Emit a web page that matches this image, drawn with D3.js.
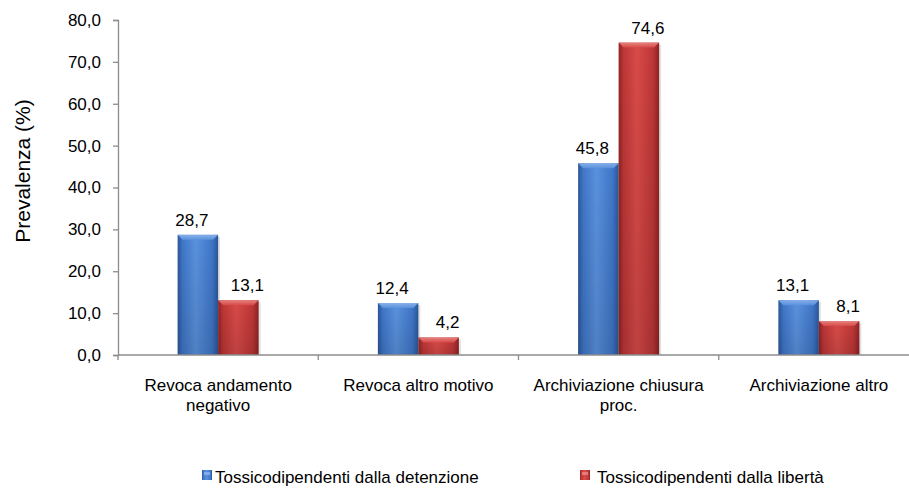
<!DOCTYPE html>
<html>
<head>
<meta charset="utf-8">
<script src="https://cdn.jsdelivr.net/npm/d3@7"></script>
<style>
  html, body { margin: 0; padding: 0; background: #fff; }
  svg { display: block; }
  text { font-family: "Liberation Sans", Arial, sans-serif; fill: #000; }
</style>
</head>
<body>
<svg id="chart" width="909" height="488"></svg>
<script>
const categories = [
  ["Revoca andamento", "negativo"],
  ["Revoca altro motivo"],
  ["Archiviazione chiusura", "proc."],
  ["Archiviazione altro"]
];
const seriesNames = ["Tossicodipendenti dalla detenzione", "Tossicodipendenti dalla libertà"];
const detenzione = [28.7, 12.4, 45.8, 13.1];
const liberta = [13.1, 4.2, 74.6, 8.1];
const yTicks = [0, 10, 20, 30, 40, 50, 60, 70, 80];
const yTitle = "Prevalenza (%)";

const svg = d3.select("#chart");
const fmt = v => d3.format(".1f")(v).replace(".", ",");

const catKeys = categories.map(c => c.join(" "));
const x = d3.scaleBand().domain(catKeys).range([118, 919]).paddingInner(0).paddingOuter(0);
const bw = x.bandwidth();
const xs = d3.scaleBand().domain([0, 1]).range([bw / 2 - 40.5, bw / 2 + 40.5]);
const y = d3.scaleLinear().domain([0, 80]).range([355, 20]);

const palettes = [
  { dark: "#2a5698", mid: "#3f76c8", light: "#5a92de", top: "#8db5ea" },
  { dark: "#8e2224", mid: "#bd3636", light: "#d84b49", top: "#e88a86" }
];

const defs = svg.append("defs");
palettes.forEach((p, i) => {
  const g = defs.append("linearGradient").attr("id", "grad" + i)
    .attr("x1", "0").attr("x2", "1").attr("y1", "0").attr("y2", "0");
  g.append("stop").attr("offset", "0").attr("stop-color", p.dark);
  g.append("stop").attr("offset", "0.12").attr("stop-color", p.mid);
  g.append("stop").attr("offset", "0.45").attr("stop-color", p.light);
  g.append("stop").attr("offset", "0.85").attr("stop-color", p.mid);
  g.append("stop").attr("offset", "1").attr("stop-color", p.dark);
  const v = defs.append("linearGradient").attr("id", "vgrad" + i)
    .attr("x1", "0").attr("x2", "0").attr("y1", "0").attr("y2", "1");
  v.append("stop").attr("offset", "0").attr("stop-color", "#000").attr("stop-opacity", 0);
  v.append("stop").attr("offset", "1").attr("stop-color", "#000").attr("stop-opacity", 0.12);
  const t = defs.append("linearGradient").attr("id", "tgrad" + i)
    .attr("x1", "0").attr("x2", "0").attr("y1", "0").attr("y2", "1");
  t.append("stop").attr("offset", "0").attr("stop-color", p.top);
  t.append("stop").attr("offset", "1").attr("stop-color", p.light);
});

// Y axis
const yAxis = d3.axisLeft(y).tickValues(yTicks).tickSize(5).tickPadding(12).tickFormat(fmt);
const gy = svg.append("g").attr("transform", "translate(118,0)").call(yAxis);
gy.select(".domain").attr("stroke", "#8c8c8c").attr("stroke-width", 1.3);
gy.selectAll(".tick line").attr("stroke", "#8c8c8c").attr("stroke-width", 1.3);
gy.selectAll(".tick text").style("font-size", "17px").attr("fill", "#000")
  .style("font-family", "'Liberation Sans', Arial, sans-serif");

// Y title
svg.append("text")
  .attr("transform", "translate(30,171) rotate(-90)")
  .attr("text-anchor", "middle")
  .style("font-size", "21px")
  .text(yTitle);

// Bars
const series = [detenzione, liberta];
series.forEach((vals, si) => {
  const g = svg.append("g");
  vals.forEach((v, ci) => {
    const x0 = x(catKeys[ci]) + xs(si);
    const w = xs.bandwidth();
    const y0 = y(v), h = y(0) - y(v);
    g.append("rect").attr("x", x0 + 2).attr("y", y0 + 2).attr("width", w).attr("height", h - 2)
      .attr("fill", "#000").attr("opacity", 0.12);
    g.append("rect").attr("x", x0).attr("y", y0).attr("width", w).attr("height", h)
      .attr("fill", `url(#grad${si})`);
    g.append("rect").attr("x", x0).attr("y", y0).attr("width", w).attr("height", h)
      .attr("fill", `url(#vgrad${si})`);
    g.append("path")
      .attr("d", `M${x0},${y0} L${x0 + w},${y0} L${x0 + w - 5},${y0 + 5} L${x0 + 5},${y0 + 5} Z`)
      .attr("fill", `url(#tgrad${si})`).attr("opacity", 0.9);
    g.append("text")
      .attr("x", x0 + w / 2 + (si === 0 ? -6 : 9))
      .attr("y", y0 - 9)
      .attr("text-anchor", "middle")
      .style("font-size", "17px")
      .text(fmt(v));
  });
});

// X axis
svg.append("line").attr("x1", 118).attr("x2", 909).attr("y1", y(0)).attr("y2", y(0))
  .attr("stroke", "#8c8c8c").attr("stroke-width", 1.3);
catKeys.forEach(k => {
  svg.append("line").attr("x1", x(k)).attr("x2", x(k)).attr("y1", y(0)).attr("y2", y(0) + 5)
    .attr("stroke", "#8c8c8c").attr("stroke-width", 1.3);
});
categories.forEach((lines, ci) => {
  const t = svg.append("text")
    .attr("x", x(catKeys[ci]) + bw / 2)
    .attr("y", 391)
    .attr("text-anchor", "middle")
    .style("font-size", "17px");
  lines.forEach((ln, li) => {
    t.append("tspan").attr("x", x(catKeys[ci]) + bw / 2).attr("dy", li === 0 ? 0 : 20).text(ln);
  });
});

// Legend
const legendPos = [{ mx: 202, tx: 215 }, { mx: 580, tx: 597 }];
seriesNames.forEach((name, i) => {
  const p = legendPos[i];
  svg.append("rect").attr("x", p.mx).attr("y", 470).attr("width", 10).attr("height", 10)
    .attr("fill", `url(#grad${i})`);
  svg.append("rect").attr("x", p.mx + 2).attr("y", 472).attr("width", 6).attr("height", 3)
    .attr("fill", palettes[i].top).attr("opacity", 0.8);
  svg.append("text").attr("x", p.tx).attr("y", 483).style("font-size", "17px").text(name);
});
</script>
</body>
</html>
